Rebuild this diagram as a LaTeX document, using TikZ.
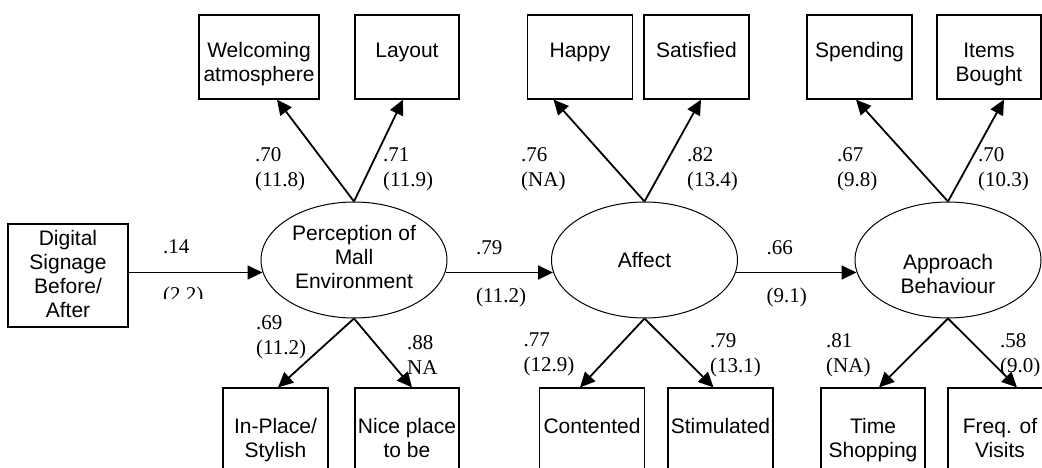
\documentclass[tikz,border=0pt]{standalone}
\usepackage{fontspec}
\setmainfont{Liberation Sans}
\newfontfamily\numfont{Liberation Serif}
\usetikzlibrary{arrows.meta,shapes.geometric}

\begin{document}
\begin{tikzpicture}[x=1pt,y=-1pt,
  obs/.style={draw,line width=1.2pt,inner sep=0,minimum height=84pt},
  latent/.style={draw,ellipse,line width=1pt,inner sep=0,minimum width=186pt,minimum height=116pt},
  txt/.style={inner sep=0,align=center,font=\fontsize{21}{24}\selectfont},
  coef/.style={inner sep=0,align=left,anchor=north west,font=\numfont\fontsize{21}{25}\selectfont},
  arr/.style={-{Triangle[length=15pt,width=14pt]},line width=1.8pt}]
  \useasboundingbox (0,0) rectangle (1042,468);
  \clip (0,0) rectangle (1042,468);

  % Latent variables
  \node[latent] (per) at (354,260) {};
  \node[latent] (aff) at (644.5,260) {};
  \node[latent] (app) at (948,260) {};
  \node[txt] (pert) at (354,256.5) {Perception of\\Mall\\Environment};
  \node[txt] (afft) at (644.5,260) {Affect};
  \node[txt] (appt) at (948,273.5) {Approach\\Behaviour};

  % Manipulation
  \node[obs,minimum width=120pt,minimum height=103pt] (dig) at (68,275.5) {};
  \node[txt] (digt) at ([yshift=2pt]dig) {Digital\\Signage\\Before/\\After};

  % Top indicators
  \node[obs,minimum width=120pt] (wel) at (259,57) {};
  \node[obs,minimum width=104pt] (lay) at (407,57) {};
  \node[obs,minimum width=105pt] (hap) at (580,57) {};
  \node[obs,minimum width=105pt] (sat) at (696.5,57) {};
  \node[obs,minimum width=105pt] (spe) at (859.5,57) {};
  \node[obs,minimum width=104pt] (itm) at (989,57) {};
  \node[txt,anchor=north] (welt) at ([yshift=-28pt]wel.north) {Welcoming\\atmosphere};
  \node[txt,anchor=north] (layt) at ([yshift=-28pt]lay.north) {Layout};
  \node[txt,anchor=north] (hapt) at ([yshift=-28pt]hap.north) {Happy};
  \node[txt,anchor=north] (satt) at ([yshift=-28pt]sat.north) {Satisfied};
  \node[txt,anchor=north] (spet) at ([yshift=-28pt]spe.north) {Spending};
  \node[txt,anchor=north] (itmt) at ([yshift=-28pt]itm.north) {Items\\Bought};

  % Bottom indicators
  \node[obs,minimum width=105pt,minimum height=100pt] (inp) at (275.5,438) {};
  \node[obs,minimum width=104pt,minimum height=100pt] (nic) at (407,438) {};
  \node[obs,minimum width=104.5pt,minimum height=100pt] (con) at (592,438) {};
  \node[obs,minimum width=105pt,minimum height=100pt] (sti) at (720.5,438) {};
  \node[obs,minimum width=104pt,minimum height=100pt] (tim) at (873,438) {};
  \node[obs,minimum width=104pt,minimum height=100pt] (frq) at (1000,438) {};
  \node[txt,anchor=north] (inpt) at ([yshift=-31pt]inp.north) {In-Place/\\Stylish};
  \node[txt,anchor=north] (nict) at ([yshift=-31pt]nic.north) {Nice place\\to be};
  \node[txt,anchor=north] (cont) at ([yshift=-31pt]con.north) {Contented};
  \node[txt,anchor=north] (stit) at ([yshift=-31pt]sti.north) {Stimulated};
  \node[txt,anchor=north] (timt) at ([yshift=-31pt]tim.north) {Time\\Shopping};
  \node[txt,anchor=north] (frqt) at ([yshift=-31pt]frq.north) {Freq. of\\Visits};

  % Paths
  \draw[arr] ([yshift=3pt]dig.east) -- ([xshift=2pt,yshift=-12.5pt]per.west);
  \draw[arr] ([xshift=-2pt,yshift=-12.5pt]per.east) -- ([xshift=2pt,yshift=-12.5pt]aff.west);
  \draw[arr] ([xshift=-2pt,yshift=-12.5pt]aff.east) -- ([xshift=2pt,yshift=-12.5pt]app.west);

  % Loadings
  \draw[arr] (per.north) -- ([xshift=18pt]wel.south);
  \draw[arr] (per.north) -- ([xshift=-4pt]lay.south);
  \draw[arr] (aff.north) -- ([xshift=-26.5pt]hap.south);
  \draw[arr] (aff.north) -- ([xshift=4.5pt]sat.south);
  \draw[arr] (app.north) -- ([xshift=-3.5pt]spe.south);
  \draw[arr] (app.north) -- ([xshift=15pt]itm.south);
  \draw[arr] (per.south) -- ([xshift=2.5pt]inp.north);
  \draw[arr] (per.south) -- ([xshift=5pt]nic.north);
  \draw[arr] (aff.south) -- ([xshift=-12pt]con.north);
  \draw[arr] (aff.south) -- ([xshift=-7pt]sti.north);
  \draw[arr] (app.south) -- ([xshift=6pt]tim.north);
  \draw[arr] (app.south) -- ([xshift=17pt]frq.north);

  % Coefficients
  \node[coef] (c1) at (163,239) {.14};
  \begin{scope}
    \clip (150,280) rectangle (215,298);
    \node[coef] (t1) at (163,287) {(2.2)};
  \end{scope}
  \node[coef] (c2) at (476,240) {.79};
  \node[coef] (t2) at (476,288) {(11.2)};
  \node[coef] (c3) at (766.5,240) {.66};
  \node[coef] (t3) at (766.5,288) {(9.1)};
  \node[coef] (c4) at (255,147) {.70\\(11.8)};
  \node[coef] (c5) at (383,147) {.71\\(11.9)};
  \node[coef] (c6) at (521,147) {.76\\(NA)};
  \node[coef] (c7) at (687,147) {.82\\(13.4)};
  \node[coef] (c8) at (837,147) {.67\\(9.8)};
  \node[coef] (c9) at (978,147) {.70\\(10.3)};
  \node[coef] (c10) at (256,315) {.69\\(11.2)};
  \node[coef] (c11) at (407,335) {.88\\NA};
  \node[coef] (c12) at (523.5,333) {.77\\(12.9)};
  \node[coef] (c13) at (710,333) {.79\\(13.1)};
  \node[coef] (c14) at (826,333) {.81\\(NA)};
  \node[coef] (c15) at (1000,333) {.58\\(9.0)};
\end{tikzpicture}
\end{document}
